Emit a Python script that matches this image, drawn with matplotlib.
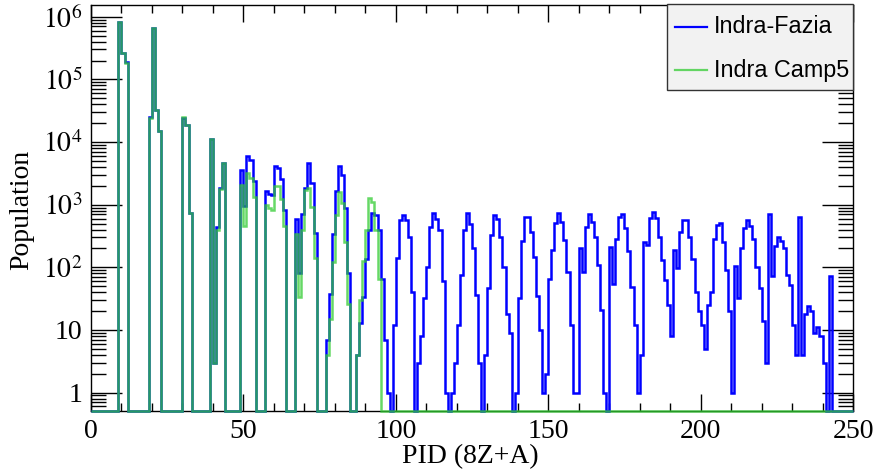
import numpy as np
import matplotlib
matplotlib.use('Agg')
import matplotlib.pyplot as plt
from matplotlib.ticker import FixedLocator, FuncFormatter, MultipleLocator, LogLocator, NullFormatter
from matplotlib.patches import Rectangle
from matplotlib.lines import Line2D

plt.rcParams['font.family'] = ['Liberation Serif', 'DejaVu Serif']
plt.rcParams['mathtext.fontset'] = 'stix'

# ---------------- data (counts per PID bin, bin i = [i, i+1)) ----------------
pid_min, pid_max = 0, 250

indra_fazia = [
    0, 0, 0, 0, 0, 0, 0, 0, 0, 830000,            # 0-9
    265000, 187000, 0, 0, 0, 0, 0, 0, 0, 24700,   # 10-19
    660000, 33000, 15000, 0, 0, 0, 0, 0, 0, 0,    # 20-29
    24000, 19000, 740, 0, 0, 0, 0, 0, 0, 11000,   # 30-39
    3, 440, 1820, 4650, 0, 0, 0, 0, 0, 3560,      # 40-49
    946, 5960, 5140, 2370, 0, 0, 0, 1644, 1455, 1420,   # 50-59
    4170, 3790, 2550, 817, 0, 0, 0, 600, 80, 700,       # 60-69
    1855, 4550, 2230, 355, 0, 0, 0, 7, 38, 338,         # 70-79
    1644, 4120, 3000, 900, 80, 0, 0, 4, 13, 34,         # 80-89
    138, 390, 724, 690, 390, 66, 7, 1, 0, 12,           # 90-99
    140, 565, 690, 565, 310, 40, 0, 3, 8, 32,           # 100-109
    101, 440, 724, 600, 390, 60, 1, 0, 1, 3,            # 110-119
    12, 75, 390, 724, 500, 200, 36, 3, 0, 4,            # 120-129
    46, 325, 680, 580, 306, 101, 18, 9, 0, 1,           # 130-139
    32, 262, 640, 640, 369, 147, 35, 10, 1, 2,          # 140-149
    66, 187, 510, 740, 530, 270, 84, 12, 1, 1,          # 150-159
    200, 84, 432, 720, 530, 306, 108, 21, 1, 0,         # 160-169
    212, 54, 288, 640, 700, 417, 181, 49, 12, 1,        # 170-179
    4, 255, 226, 615, 767, 615, 306, 130, 62, 25,       # 180-189
    8, 187, 96, 368, 565, 565, 300, 135, 41, 20,        # 190-199
    12, 5, 25, 41, 288, 470, 510, 250, 90, 20,          # 200-209
    1, 105, 32, 205, 425, 565, 460, 285, 100, 46,       # 210-219
    14, 3, 720, 72, 218, 306, 262, 200, 75, 52,         # 220-229
    12, 4, 640, 4, 18, 24, 20, 9, 11, 8,                # 230-239
    3, 0, 72, 0, 0, 0, 0, 0, 0, 0,                      # 240-249
]

indra_camp5_low = [
    0, 0, 0, 0, 0, 0, 0, 0, 0, 830000,            # 0-9
    262000, 185000, 0, 0, 0, 0, 0, 0, 0, 24500,   # 10-19
    655000, 33000, 14800, 0, 0, 0, 0, 0, 0, 0,    # 20-29
    25000, 19000, 740, 0, 0, 0, 0, 0, 0, 11000,   # 30-39
    3, 390, 1750, 4650, 0, 0, 0, 0, 0, 2050,      # 40-49
    454, 3150, 2620, 1333, 0, 0, 0, 982, 890, 817,      # 50-59
    2000, 2000, 1225, 450, 0, 0, 0, 338, 34, 392,       # 60-69
    1700, 1855, 922, 141, 0, 0, 0, 4, 15, 122,          # 70-79
    679, 1600, 1045, 256, 26, 0, 0, 4, 30, 128,         # 80-89
    390, 1260, 1110, 390, 66,                           # 90-94
]
indra_camp5 = indra_camp5_low + [0] * (250 - len(indra_camp5_low))

series_labels = ['Indra-Fazia', 'Indra Camp5']
series_colors = ['#0000ff', '#33cc33']

x_label = 'PID (8Z+A)'
y_label = 'Population'

# ---------------- figure ----------------
W, H = 876, 472
fig = plt.figure(figsize=(W / 100, H / 100), dpi=100)
ax_left, ax_right, ax_top, ax_bottom = 91, 853, 5, 411
ax = fig.add_axes([ax_left / W, 1 - ax_bottom / H,
                   (ax_right - ax_left) / W, (ax_bottom - ax_top) / H])

YMIN, YMAX = 0.508, 1.54e6
edges = np.linspace(pid_min, pid_max, len(indra_fazia) + 1)

def floored(vals):
    v = np.asarray(vals, dtype=float)
    return np.where(v <= 0, YMIN, v)

ax.stairs(floored(indra_fazia), edges, baseline=None, color=series_colors[0],
          lw=1.8, zorder=3, clip_on=False)
ax.stairs(floored(indra_camp5), edges, baseline=None, color=series_colors[1],
          lw=1.8, alpha=0.75, zorder=4, clip_on=False)

ax.set_yscale('log')
ax.set_xlim(pid_min, pid_max)
ax.set_ylim(YMIN, YMAX)

ax.xaxis.set_major_locator(MultipleLocator(50))
ax.xaxis.set_minor_locator(MultipleLocator(10))
ax.yaxis.set_major_locator(FixedLocator([10.0 ** k for k in range(0, 7)]))
ax.yaxis.set_minor_locator(LogLocator(base=10, subs=np.arange(2, 10), numticks=50))
ax.yaxis.set_minor_formatter(NullFormatter())

def yfmt(v, pos):
    k = int(round(np.log10(v)))
    if k == 0:
        return '1'
    if k == 1:
        return '10'
    return r'$10^{%d}$' % k

ax.yaxis.set_major_formatter(FuncFormatter(yfmt))

ax.tick_params(which='both', direction='in', top=True, right=True, color='black', width=1)
ax.tick_params(axis='x', which='major', length=12, labelsize=20, pad=6)
ax.tick_params(axis='x', which='minor', length=6)
ax.tick_params(axis='y', which='major', length=22, labelsize=20, pad=6)
ax.tick_params(axis='y', which='minor', length=11)
for s in ax.spines.values():
    s.set_linewidth(1.0)
    s.set_color('black')

fig.text(470 / W, 1 - 457 / H, x_label, ha='center', va='center', fontsize=20)
fig.text(22 / W, 1 - 210 / H, y_label, ha='center', va='center', fontsize=20, rotation=90)

# ---------------- legend (ROOT style box) ----------------
def fx(px):
    return px / W

def fy(py):
    return 1 - py / H

lx0, lx1, ly0, ly1 = 667, 853, 4, 90
fig.patches.append(Rectangle((fx(lx0), fy(ly1)), fx(lx1) - fx(lx0), fy(ly0) - fy(ly1),
                             transform=fig.transFigure, facecolor='#f2f2f2',
                             edgecolor='#333333', lw=1.0, zorder=10))
legend_alpha = [1.0, 0.75]
for i, (lab, col) in enumerate(zip(series_labels, series_colors)):
    yy = 26.5 + i * 43.5
    fig.add_artist(Line2D([fx(675), fx(707)], [fy(yy), fy(yy)], color=col, lw=1.6,
                          alpha=legend_alpha[i], transform=fig.transFigure, zorder=11))
    fig.text(fx(714), fy(yy), lab, ha='left', va='center', fontsize=16.8,
             family=['Liberation Sans', 'DejaVu Sans'], zorder=11)

fig.savefig('out.png', dpi=100)
